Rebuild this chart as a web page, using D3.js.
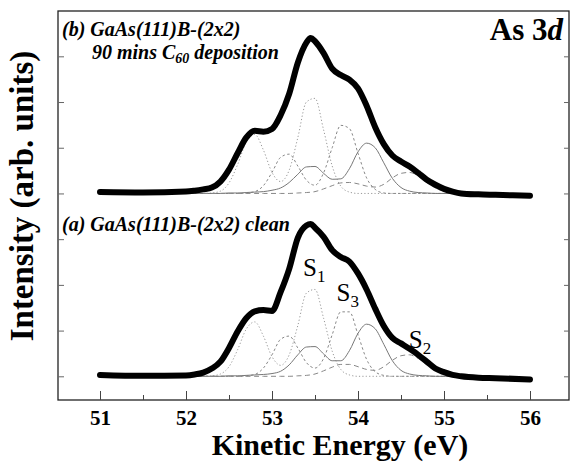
<!DOCTYPE html>
<meta charset="utf-8">
<script src="https://d3js.org/d3.v7.min.js"></script>
<style>
  body { margin: 0; background: #fff; }
  text { font-family: "Liberation Serif", "Times New Roman", serif; }
</style>
<div id="chart"></div>
<script>
// energies of the measured spectra (eV)
const totE = [51.0, 51.5, 52.0, 52.1, 52.2, 52.3, 52.4, 52.5, 52.6, 52.7, 52.8, 52.9, 53.0, 53.1, 53.2, 53.3, 53.4, 53.45,
  53.5, 53.6, 53.7, 53.8, 53.9, 54.0, 54.1, 54.2, 54.3, 54.4, 54.5, 54.6, 54.7, 54.8, 54.9, 55.0, 55.1, 55.2, 55.4, 55.6, 56.0];
// (b) after 90 mins C60 deposition
const totB = [0.03, 0.02, 0.04, 0.06, 0.09, 0.13, 0.26, 0.52, 0.88, 1.22, 1.37, 1.35, 1.41, 1.71, 2.18, 2.86, 3.30, 3.40,
  3.33, 3.07, 2.73, 2.59, 2.49, 2.30, 1.92, 1.45, 1.08, 0.83, 0.70, 0.59, 0.45, 0.30, 0.19, 0.10, 0.04, 0.00, -0.02, -0.03, -0.05];
// (a) clean surface
const totA = [0.03, 0.01, 0.02, 0.04, 0.08, 0.17, 0.32, 0.62, 0.98, 1.27, 1.42, 1.45, 1.43, 1.84, 2.35, 3.03, 3.30, 3.33,
  3.25, 3.05, 2.76, 2.61, 2.51, 2.25, 1.90, 1.48, 1.10, 0.84, 0.72, 0.60, 0.47, 0.32, 0.17, 0.09, 0.03, 0.00, -0.03, -0.04, -0.07];

// energies of the fitted components (eV)
const compE = [52.0, 52.1, 52.2, 52.3, 52.4, 52.5, 52.6, 52.7, 52.8, 52.9, 53.0, 53.1, 53.2, 53.3, 53.4, 53.5, 53.6, 53.7,
  53.8, 53.9, 54.0, 54.1, 54.2, 54.3, 54.4, 54.5, 54.6, 54.7, 54.8, 54.9, 55.0, 55.1, 55.2, 55.3, 55.4];

const bulkB  = [0, 0, 0, 0.01, 0.05, 0.23, 0.63, 1.12, 1.29, 0.95, 0.46, 0.26, 0.51, 1.22, 2.00, 2.08, 1.39, 0.60, 0.16, 0.03,
  0, 0, 0, 0, 0, 0, 0, 0, 0, 0, 0, 0, 0, 0, 0];
const sDotB  = [0, 0, 0, 0, 0, 0, 0, 0.01, 0.04, 0.17, 0.46, 0.79, 0.86, 0.60, 0.29, 0.18, 0.45, 1.00, 1.49, 1.42, 0.88, 0.34,
  0.09, 0.01, 0, 0, 0, 0, 0, 0, 0, 0, 0, 0, 0];
const solidB = [0, 0, 0, 0, 0, 0.01, 0.01, 0.02, 0.03, 0.04, 0.07, 0.12, 0.24, 0.42, 0.58, 0.59, 0.44, 0.31, 0.32, 0.54, 0.91,
  1.10, 1.00, 0.67, 0.33, 0.13, 0.05, 0.02, 0.01, 0, 0, 0, 0, 0, 0];
const dashB  = [0, 0, 0, 0, 0, 0, 0, 0, 0, 0, 0, 0, 0, 0.01, 0.02, 0.04, 0.10, 0.17, 0.23, 0.24, 0.21, 0.16, 0.14, 0.20, 0.34,
  0.44, 0.46, 0.38, 0.24, 0.12, 0.05, 0.01, 0, 0, 0];

const bulkA  = [0, 0, 0, 0.01, 0.05, 0.21, 0.58, 1.03, 1.19, 0.88, 0.43, 0.24, 0.47, 1.11, 1.82, 1.90, 1.27, 0.55, 0.15, 0.03,
  0, 0, 0, 0, 0, 0, 0, 0, 0, 0, 0, 0, 0, 0, 0];
const sDotA  = [0, 0, 0, 0, 0, 0, 0, 0.01, 0.04, 0.18, 0.47, 0.81, 0.88, 0.62, 0.30, 0.18, 0.39, 0.91, 1.41, 1.41, 0.91, 0.37,
  0.10, 0.02, 0, 0, 0, 0, 0, 0, 0, 0, 0, 0, 0];
const solidA = [0, 0, 0, 0, 0, 0.01, 0.01, 0.02, 0.03, 0.04, 0.06, 0.11, 0.25, 0.47, 0.64, 0.65, 0.49, 0.34, 0.34, 0.56, 0.94,
  1.14, 1.04, 0.70, 0.34, 0.13, 0.05, 0.02, 0.01, 0, 0, 0, 0, 0, 0];
const dashA  = [0, 0, 0, 0, 0, 0, 0, 0, 0, 0, 0, 0, 0, 0.01, 0.02, 0.05, 0.12, 0.20, 0.26, 0.26, 0.21, 0.15, 0.13, 0.21, 0.35,
  0.45, 0.47, 0.39, 0.25, 0.12, 0.05, 0.01, 0, 0, 0];

const xTicks = [51, 52, 53, 54, 55, 56];
const xMinor = [51.5, 52.5, 53.5, 54.5, 55.5];
const yTicks = [0, 1, 2, 3, 4, 5, 6, 7];

// peak labels (energy, intensity of panel a)
const peakLabels = [
  { name: "S", sub: "1", e: 53.43, v: 2.2 },
  { name: "S", sub: "3", e: 53.82, v: 1.65 },
  { name: "S", sub: "2", e: 54.66, v: 0.63 }
];

const W = 570, H = 462;
const frame = { left: 58, right: 569, top: 11, bottom: 400 };

const svg = d3.select("#chart").append("svg")
  .attr("width", W).attr("height", H);

const x = d3.scaleLinear().domain([51, 56]).range([100, 530]);
const y = d3.scaleLinear().domain([0, 8]).range([376.3, 10.6]);
const offB = 4; // vertical offset of spectrum (b)

// frame
svg.append("rect")
  .attr("x", frame.left).attr("y", frame.top)
  .attr("width", frame.right - frame.left).attr("height", frame.bottom - frame.top)
  .attr("fill", "none").attr("stroke", "#222").attr("stroke-width", 1.3);

// x axis (ticks pointing inward)
const xAxis = svg.append("g")
  .attr("transform", `translate(0,${frame.bottom})`)
  .call(d3.axisBottom(x).tickValues(xTicks).tickSizeInner(-9).tickSizeOuter(0).tickFormat(d3.format("d")));
xAxis.select(".domain").remove();
xAxis.selectAll("line").attr("stroke", "#444");
xAxis.selectAll("text")
  .attr("y", 25).attr("dy", 0)
  .attr("font-size", 21).attr("font-weight", "bold").attr("fill", "#000")
  .style("font-family", "Liberation Serif");

const xMinorAxis = svg.append("g")
  .attr("transform", `translate(0,${frame.bottom})`)
  .call(d3.axisBottom(x).tickValues(xMinor).tickSizeInner(-5).tickSizeOuter(0).tickFormat(""));
xMinorAxis.select(".domain").remove();
xMinorAxis.selectAll("line").attr("stroke", "#444");

// y axes, no labels
const yLeft = svg.append("g")
  .attr("transform", `translate(${frame.left},0)`)
  .call(d3.axisLeft(y).tickValues(yTicks).tickSizeInner(-6).tickSizeOuter(0).tickFormat(""));
yLeft.select(".domain").remove();
yLeft.selectAll("line").attr("stroke", "#666");

const yRight = svg.append("g")
  .attr("transform", `translate(${frame.right},0)`)
  .call(d3.axisRight(y).tickValues(yTicks).tickSizeInner(-5).tickSizeOuter(0).tickFormat(""));
yRight.select(".domain").remove();
yRight.selectAll("line").attr("stroke", "#666");

// line generators
const lineFor = (es, off) => d3.line()
  .x((d, i) => x(es[i]))
  .y(d => y(d + off))
  .curve(d3.curveMonotoneX);

const compStyles = [
  { key: "bulk",  dash: "1.2,2.2", color: "#999", width: 1 },
  { key: "sDot",  dash: "2.5,2.5", color: "#888", width: 1 },
  { key: "solid", dash: null,      color: "#777", width: 1 },
  { key: "dash",  dash: "5,3.5",   color: "#888", width: 1 }
];

const panels = [
  { off: offB, tot: totB, comps: { bulk: bulkB, sDot: sDotB, solid: solidB, dash: dashB } },
  { off: 0,    tot: totA, comps: { bulk: bulkA, sDot: sDotA, solid: solidA, dash: dashA } }
];

panels.forEach(p => {
  compStyles.forEach(s => {
    svg.append("path")
      .datum(p.comps[s.key])
      .attr("d", lineFor(compE, p.off))
      .attr("fill", "none")
      .attr("stroke", s.color)
      .attr("stroke-width", s.width)
      .attr("stroke-dasharray", s.dash);
  });
  svg.append("path")
    .datum(p.tot)
    .attr("d", lineFor(totE, p.off))
    .attr("fill", "none")
    .attr("stroke", "#000")
    .attr("stroke-width", 6)
    .attr("stroke-linecap", "round")
    .attr("stroke-linejoin", "round");
});

// panel titles
svg.append("text")
  .attr("x", 62).attr("y", 36)
  .attr("font-size", 20).attr("font-weight", "bold").attr("font-style", "italic")
  .text("(b) GaAs(111)B-(2x2)");

const t2 = svg.append("text")
  .attr("x", 92).attr("y", 59)
  .attr("font-size", 20).attr("font-weight", "bold").attr("font-style", "italic");
t2.append("tspan").text("90 mins C");
t2.append("tspan").attr("font-size", 14).attr("dy", 4).text("60");
t2.append("tspan").attr("dy", -4).text(" deposition");

svg.append("text")
  .attr("x", 62).attr("y", 231)
  .attr("font-size", 20).attr("font-weight", "bold").attr("font-style", "italic")
  .text("(a) GaAs(111)B-(2x2) clean");

// core level label
const cl = svg.append("text")
  .attr("x", 563).attr("y", 40)
  .attr("text-anchor", "end")
  .attr("font-size", 31).attr("font-weight", "bold");
cl.append("tspan").text("As 3");
cl.append("tspan").attr("font-style", "italic").text("d");

// peak labels
peakLabels.forEach(l => {
  const t = svg.append("text")
    .attr("x", x(l.e) - 6).attr("y", y(l.v))
    .attr("font-size", 25);
  t.append("tspan").text(l.name);
  t.append("tspan").attr("font-size", 17).attr("dy", 6).text(l.sub);
});

// axis titles
svg.append("text")
  .attr("x", 340).attr("y", 455)
  .attr("text-anchor", "middle")
  .attr("font-size", 30).attr("font-weight", "bold")
  .text("Kinetic Energy (eV)");

svg.append("text")
  .attr("transform", "translate(33,196) rotate(-90)")
  .attr("text-anchor", "middle")
  .attr("font-size", 33).attr("font-weight", "bold")
  .text("Intensity (arb. units)");
</script>
